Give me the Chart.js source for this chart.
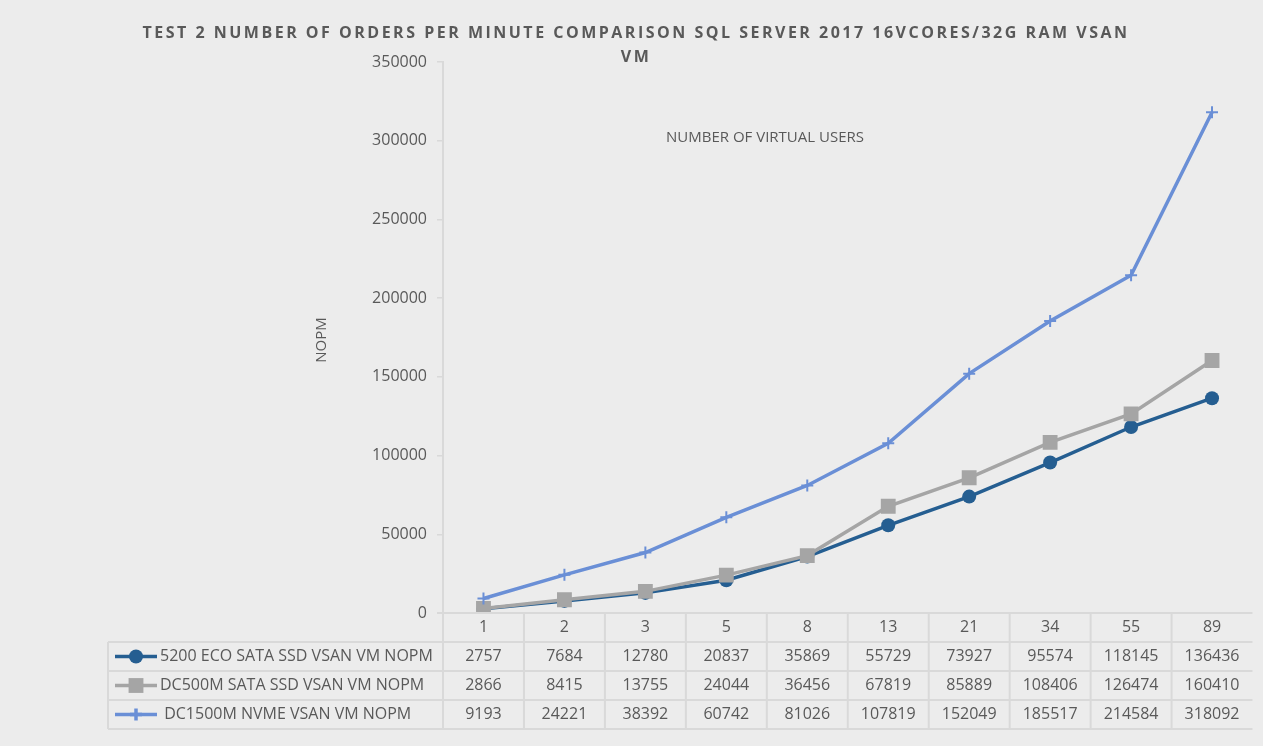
<!DOCTYPE html>
<html>
<head>
<meta charset="utf-8">
<script src="https://cdn.jsdelivr.net/npm/chart.js@4.4.0/dist/chart.umd.min.js"></script>
<style>
  html, body { margin: 0; padding: 0; background: #ececec; }
  #contenedor { width: 1263px; height: 746px; position: relative; }
</style>
</head>
<body>
<div id="contenedor"><canvas id="grafico"></canvas></div>
<script>
// Datos
const usuarios = ["1", "2", "3", "5", "8", "13", "21", "34", "55", "89"];
const nopmEco5200 = [2757, 7684, 12780, 20837, 35869, 55729, 73927, 95574, 118145, 136436];
const nopmDc500m = [2866, 8415, 13755, 24044, 36456, 67819, 85889, 108406, 126474, 160410];
const nopmDc1500m = [9193, 24221, 38392, 60742, 81026, 107819, 152049, 185517, 214584, 318092];
const nombresSeries = [
  "5200 ECO SATA SSD VSAN VM NOPM",
  "DC500M SATA SSD VSAN VM NOPM",
  " DC1500M NVME VSAN VM NOPM",
];
const titulo = ["TEST 2 NUMBER OF ORDERS PER MINUTE COMPARISON SQL SERVER 2017 16VCORES/32G RAM VSAN", "VM"];
const tituloX = "NUMBER OF VIRTUAL USERS";
const tituloY = "NOPM";

const colorTexto = "#595959";
const colorLineas = "#d9d9d9";
const fuente = "'Open Sans', sans-serif";

// Tabla de datos + titulos, dibujados a mano debajo del grafico
const pluginTabla = {
  id: "tablaDatos",
  afterDraw(chart) {
    const ctx = chart.ctx;
    const area = chart.chartArea;
    const x = chart.scales.x;
    const anchoCol = (area.right - area.left) / usuarios.length;
    const altoFila = 29;
    const izqTabla = 108;
    const filas = [area.bottom, area.bottom + altoFila, area.bottom + altoFila * 2,
      area.bottom + altoFila * 3, area.bottom + altoFila * 4];

    ctx.save();

    // Titulo
    ctx.fillStyle = colorTexto;
    ctx.textAlign = "center";
    ctx.textBaseline = "middle";
    ctx.font = "bold 16px " + fuente;
    ctx.letterSpacing = "2.5px";
    ctx.fillText(titulo[0], 636, 33);
    ctx.fillText(titulo[1], 636, 57);
    ctx.letterSpacing = "0px";

    // Titulos de ejes
    ctx.font = "15px " + fuente;
    ctx.fillText(tituloX, 765, 138);
    ctx.save();
    ctx.translate(322, 340);
    ctx.rotate(-Math.PI / 2);
    ctx.fillText(tituloY, 0, 0);
    ctx.restore();

    // Lineas de la tabla
    ctx.strokeStyle = colorLineas;
    ctx.lineWidth = 2;
    ctx.beginPath();
    ctx.moveTo(area.left - 6, filas[0]);
    ctx.lineTo(area.right, filas[0]);
    for (let i = 1; i < filas.length; i++) {
      ctx.moveTo(izqTabla, filas[i]);
      ctx.lineTo(area.right, filas[i]);
    }
    for (let c = 0; c < usuarios.length; c++) {
      const xc = area.left + c * anchoCol;
      ctx.moveTo(xc, filas[0]);
      ctx.lineTo(xc, filas[4]);
    }
    ctx.moveTo(izqTabla, filas[1]);
    ctx.lineTo(izqTabla, filas[4]);
    ctx.stroke();

    // Cabecera (categorias)
    ctx.fillStyle = colorTexto;
    ctx.font = "16px " + fuente;
    ctx.textAlign = "center";
    usuarios.forEach((u, i) => {
      ctx.fillText(u, x.getPixelForValue(i), filas[0] + altoFila / 2);
    });

    // Filas de valores con su leyenda
    chart.data.datasets.forEach((ds, f) => {
      const yc = filas[f + 1] + altoFila / 2;
      ds.data.forEach((v, i) => {
        ctx.textAlign = "center";
        ctx.fillText(String(v), x.getPixelForValue(i), yc);
      });

      ctx.strokeStyle = ds.borderColor;
      ctx.lineWidth = 3.5;
      ctx.beginPath();
      ctx.moveTo(115, yc);
      ctx.lineTo(157, yc);
      ctx.stroke();
      ctx.fillStyle = ds.pointBackgroundColor;
      ctx.strokeStyle = ds.borderColor;
      Chart.helpers.drawPoint(ctx, {
        pointStyle: ds.pointStyle,
        radius: ds.pointRadius,
        borderWidth: ds.pointBorderWidth,
        rotation: 0,
      }, 136, yc);

      ctx.fillStyle = colorTexto;
      ctx.textAlign = "left";
      ctx.fillText(nombresSeries[f], 160, yc);
    });

    ctx.restore();
  },
};

const ctx = document.querySelector("#grafico").getContext("2d");

new Chart(ctx, {
  type: "line",
  data: {
    labels: usuarios,
    datasets: [
      {
        label: nombresSeries[0],
        data: nopmEco5200,
        order: 2,
        borderColor: "#255e91",
        backgroundColor: "#255e91",
        pointBackgroundColor: "#255e91",
        borderWidth: 3.5,
        pointStyle: "circle",
        pointRadius: 7,
        pointBorderWidth: 0,
      },
      {
        label: nombresSeries[1],
        data: nopmDc500m,
        order: 1,
        borderColor: "#a5a5a5",
        backgroundColor: "#a5a5a5",
        pointBackgroundColor: "#a5a5a5",
        borderWidth: 3.5,
        pointStyle: "rect",
        pointRadius: 10.5,
        pointBorderWidth: 0,
      },
      {
        label: nombresSeries[2],
        data: nopmDc1500m,
        order: 0,
        borderColor: "#6a8fd6",
        backgroundColor: "#6a8fd6",
        pointBackgroundColor: "#6a8fd6",
        borderWidth: 3.5,
        pointStyle: "cross",
        pointRadius: 6,
        pointBorderWidth: 2,
      },
    ],
  },
  options: {
    responsive: true,
    maintainAspectRatio: false,
    animation: false,
    layout: {
      padding: { top: 62, bottom: 133, left: 0, right: 1 },
    },
    scales: {
      x: {
        type: "category",
        display: false,
        offset: true,
      },
      y: {
        min: 0,
        max: 350000,
        afterFit: (escala) => { escala.width = 443; },
        ticks: {
          stepSize: 50000,
          color: colorTexto,
          padding: 10,
          font: { family: fuente, size: 16 },
          callback: (v) => String(v),
        },
        grid: {
          drawOnChartArea: false,
          drawTicks: true,
          tickLength: 6,
          color: colorLineas,
          lineWidth: 1.5,
        },
        border: { display: true, color: colorLineas, width: 2 },
      },
    },
    plugins: {
      legend: { display: false },
      tooltip: { enabled: false },
    },
  },
  plugins: [pluginTabla],
});
</script>
</body>
</html>
